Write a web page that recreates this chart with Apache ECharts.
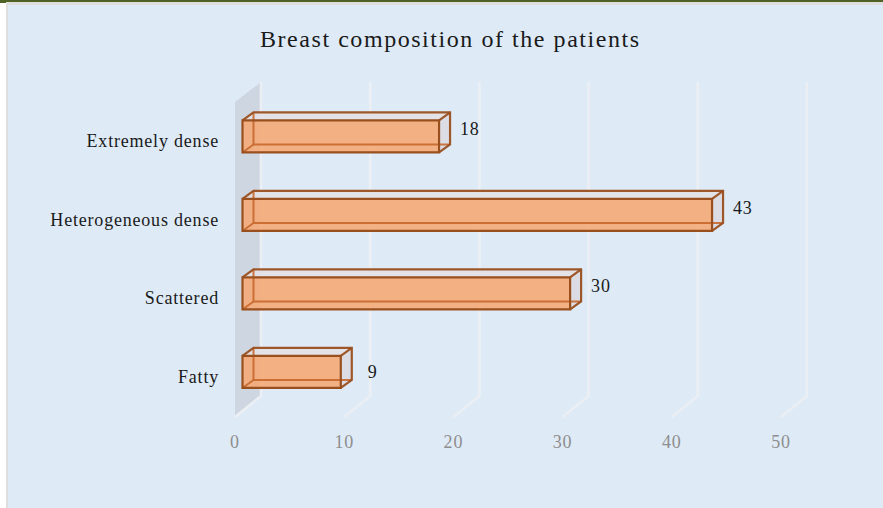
<!DOCTYPE html>
<html>
<head>
<meta charset="utf-8">
<script src="https://cdn.jsdelivr.net/npm/echarts@6/dist/echarts.min.js"></script>
<style>
html,body{margin:0;padding:0;background:#fff;overflow:hidden}
#chart{width:883px;height:508px}
#chart svg text{letter-spacing:.8px}
#chart svg text[style*="24px"]{letter-spacing:1.55px}
</style>
</head>
<body>
<div id="chart"></div>
<script>
const categories = ['Fatty', 'Scattered', 'Heterogeneous dense', 'Extremely dense'];
const values = [9, 30, 43, 18];
const xTicks = [0, 10, 20, 30, 40, 50];
const titleText = 'Breast composition of the patients';

const SERIF = '"Liberation Serif", "Times New Roman", serif';
const WALL_DX = 26, WALL_DY = -20;
const BAR_DX = 7.5, BAR_DY = -4.8;
const BAR_DEPTH_X = 11, BAR_DEPTH_Y = -8;
const BAR_H = 32;
const EDGE = '#9a4f1f';
const INNER = '#c8682c';

function renderGridLine(params, api) {
  const tick = api.value(0);
  const f = api.coord([tick, 0]);
  const bottomY = params.coordSys.y + params.coordSys.height;
  const topY = params.coordSys.y;
  const x = f[0];
  const children = [];
  if (tick === 0) {
    children.push({
      type: 'polygon',
      shape: { points: [[x, bottomY], [x, topY], [x + WALL_DX, topY + WALL_DY], [x + WALL_DX, bottomY + WALL_DY]] },
      style: { fill: '#cdd6e1' }
    });
  }
  children.push({
    type: 'polyline',
    shape: { points: [[x, bottomY + 1], [x + WALL_DX, bottomY + WALL_DY], [x + WALL_DX, topY + WALL_DY]] },
    style: { stroke: '#ebeff4', lineWidth: 2.6, fill: 'none' }
  });
  return { type: 'group', children };
}

function renderBar(params, api) {
  const cat = api.value(0);
  const val = api.value(1);
  const c0 = api.coord([0, cat]);
  const c1 = api.coord([val, cat]);
  const xl = c0[0] + BAR_DX;
  const xr = c1[0] + BAR_DX;
  const yc = c0[1] + BAR_DY;
  const yt = yc - BAR_H / 2;
  const yb = yc + BAR_H / 2;
  const dx = BAR_DEPTH_X, dy = BAR_DEPTH_Y;
  const line = (pts, extra) => ({
    type: 'polyline',
    shape: { points: pts },
    style: Object.assign({ stroke: EDGE, lineWidth: 2.2, fill: 'none', opacity: 0.95 }, extra || {})
  });
  const quad = (pts, fill, opacity) => ({
    type: 'polygon', shape: { points: pts }, style: { fill, opacity }
  });
  const shortLabel = cat === 0;
  return {
    type: 'group',
    children: [
      quad([[xl + dx, yt + dy], [xr + dx, yt + dy], [xr + dx, yb + dy], [xl + dx, yb + dy]], '#ddd9e2', 0.35),
      quad([[xr, yt], [xr + dx, yt + dy], [xr + dx, yb + dy], [xr, yb]], '#dcdce4', 1),
      quad([[xl, yt], [xr, yt], [xr + dx, yt + dy], [xl + dx, yt + dy]], '#e3e1e6', 0.9),
      quad([[xl, yt], [xr, yt], [xr, yb], [xl, yb]], '#f5a874', 0.88),
      line([[xl + dx, yt + dy], [xl + dx, yb + dy], [xr + dx, yb + dy]], { stroke: INNER, lineWidth: 2, opacity: 0.9 }),
      line([[xl, yb], [xl + dx, yb + dy]], { stroke: INNER, lineWidth: 2, opacity: 0.9 }),
      line([[xl, yt], [xl + dx, yt + dy], [xr + dx, yt + dy], [xr + dx, yb + dy], [xr, yb]]),
      line([[xr, yt], [xr + dx, yt + dy]]),
      { type: 'rect', shape: { x: xl, y: yt, width: xr - xl, height: yb - yt },
        style: { stroke: EDGE, lineWidth: 2.2, fill: 'none' } },
      { type: 'text', style: {
          text: String(val), x: xr + dx + (shortLabel ? 16 : 10), y: yc - (shortLabel ? 0 : 7) ,
          align: 'left', verticalAlign: 'middle',
          font: '18px ' + SERIF, fill: '#1a1a1a' } }
    ]
  };
}

const chart = echarts.init(document.getElementById('chart'), null, { renderer: 'svg' });
chart.setOption({
  animation: false,
  backgroundColor: '#ffffff',
  graphic: [
    { type: 'rect', z: -10, silent: true, shape: { x: 6, y: 2, width: 877, height: 506 }, style: { fill: '#dededf' } },
    { type: 'rect', z: -9, silent: true, shape: { x: 8, y: 5, width: 875, height: 503 }, style: { fill: '#deeaf6' } },
    { type: 'rect', z: -8, silent: true, shape: { x: 0, y: 0, width: 883, height: 2 }, style: { fill: '#4f6228' } },
    { type: 'rect', z: -8, silent: true, shape: { x: 0, y: 2, width: 6, height: 1 }, style: { fill: '#4f6228' } }
  ],
  title: {
    text: titleText,
    left: 255, top: 22,
    textStyle: { fontFamily: SERIF, fontSize: 24, fontWeight: 'normal', color: '#1a1a1a' }
  },
  grid: { left: 235, right: 102, top: 102, bottom: 92 },
  xAxis: {
    type: 'value', min: 0, max: 50, interval: 10,
    axisLine: { show: false }, axisTick: { show: false }, splitLine: { show: false },
    axisLabel: { color: '#8e8e8e', fontFamily: SERIF, fontSize: 18, margin: 17,
      formatter: v => xTicks.includes(v) ? String(v) : '' }
  },
  yAxis: {
    type: 'category', data: categories,
    axisLine: { show: false }, axisTick: { show: false }, splitLine: { show: false },
    axisLabel: { color: '#1a1a1a', fontFamily: SERIF, fontSize: 18, margin: 16, padding: [7, 0, 0, 0] }
  },
  series: [
    { type: 'custom', name: 'grid', coordinateSystem: 'cartesian2d', silent: true, z: 1,
      data: xTicks.map(t => [t, 0]), renderItem: renderGridLine,
      encode: { x: 0, y: 1 }, clip: false },
    { type: 'custom', name: 'Patients', coordinateSystem: 'cartesian2d', z: 2,
      data: values.map((v, i) => [i, v]), renderItem: renderBar,
      encode: { y: 0, x: 1 }, clip: false }
  ]
});
</script>
</body>
</html>
